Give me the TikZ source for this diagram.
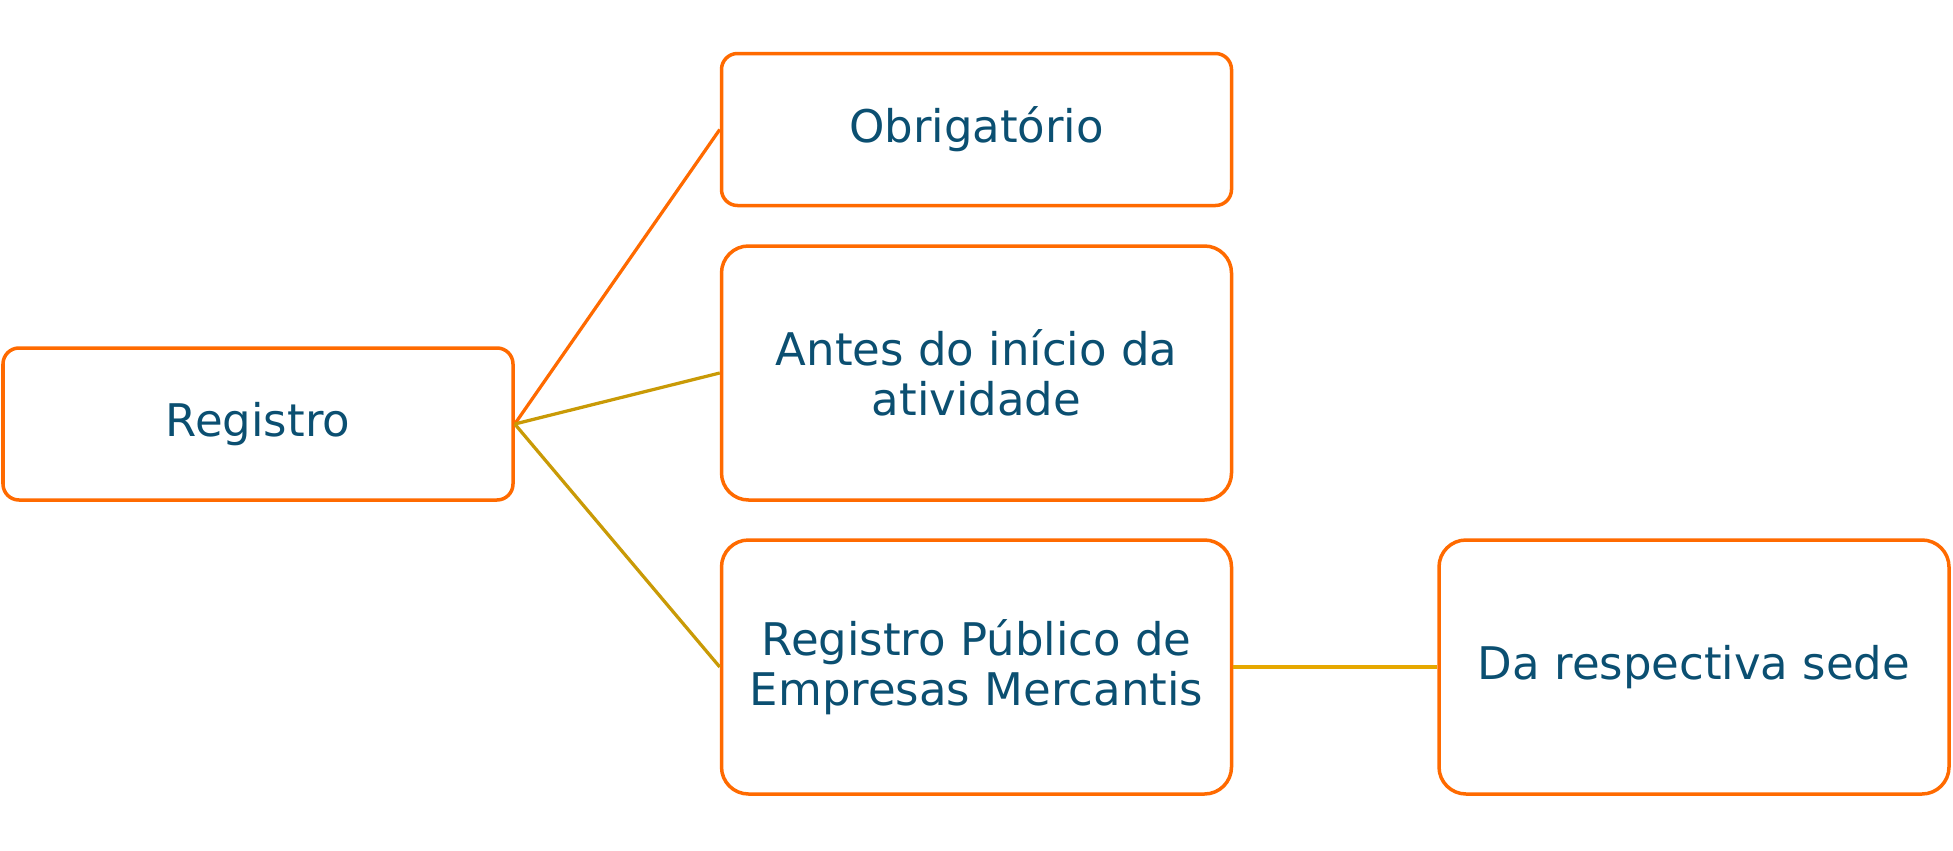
\documentclass[tikz,border=0pt]{standalone}
\usepackage{fontspec}
\setmainfont{DejaVu Sans}
\definecolor{boxorange}{HTML}{FF6A00}
\definecolor{linkgold}{HTML}{C99A06}
\definecolor{linkamber}{HTML}{E6A800}
\definecolor{txtblue}{HTML}{0B4F71}
\begin{document}
\begin{tikzpicture}[x=1cm,y=1cm,
  every node/.style={font=\fontsize{25.6}{28.5}\selectfont,text=txtblue,align=center},
  topic/.style={draw=boxorange,line width=0.07cm,rounded corners=0.32cm,
    minimum width=10.2cm,minimum height=3.04cm},
  bigtopic/.style={topic,rounded corners=0.54cm,minimum height=5.08cm}]
 \useasboundingbox (0,0) rectangle (39.06,-17);
 \node[topic] (reg) at (5.16,-8.48) {Registro};
 \node[topic] (obr) at (19.53,-2.59) {Obrigatório};
 \node[bigtopic] (ant) at (19.53,-7.46) {Antes do início da\\atividade};
 \node[bigtopic] (rpem) at (19.53,-13.34) {Registro Público de\\Empresas Mercantis};
 \node[bigtopic] (sede) at (33.88,-13.34) {Da respectiva sede};
 \draw[boxorange,line width=0.065cm] (reg.east) -- (obr.west);
 \draw[linkgold,line width=0.065cm] (reg.east) -- (ant.west);
 \draw[linkgold,line width=0.065cm] (reg.east) -- (rpem.west);
 \draw[linkamber,line width=0.065cm] (rpem.east) -- (sede.west);
\end{tikzpicture}
\end{document}
